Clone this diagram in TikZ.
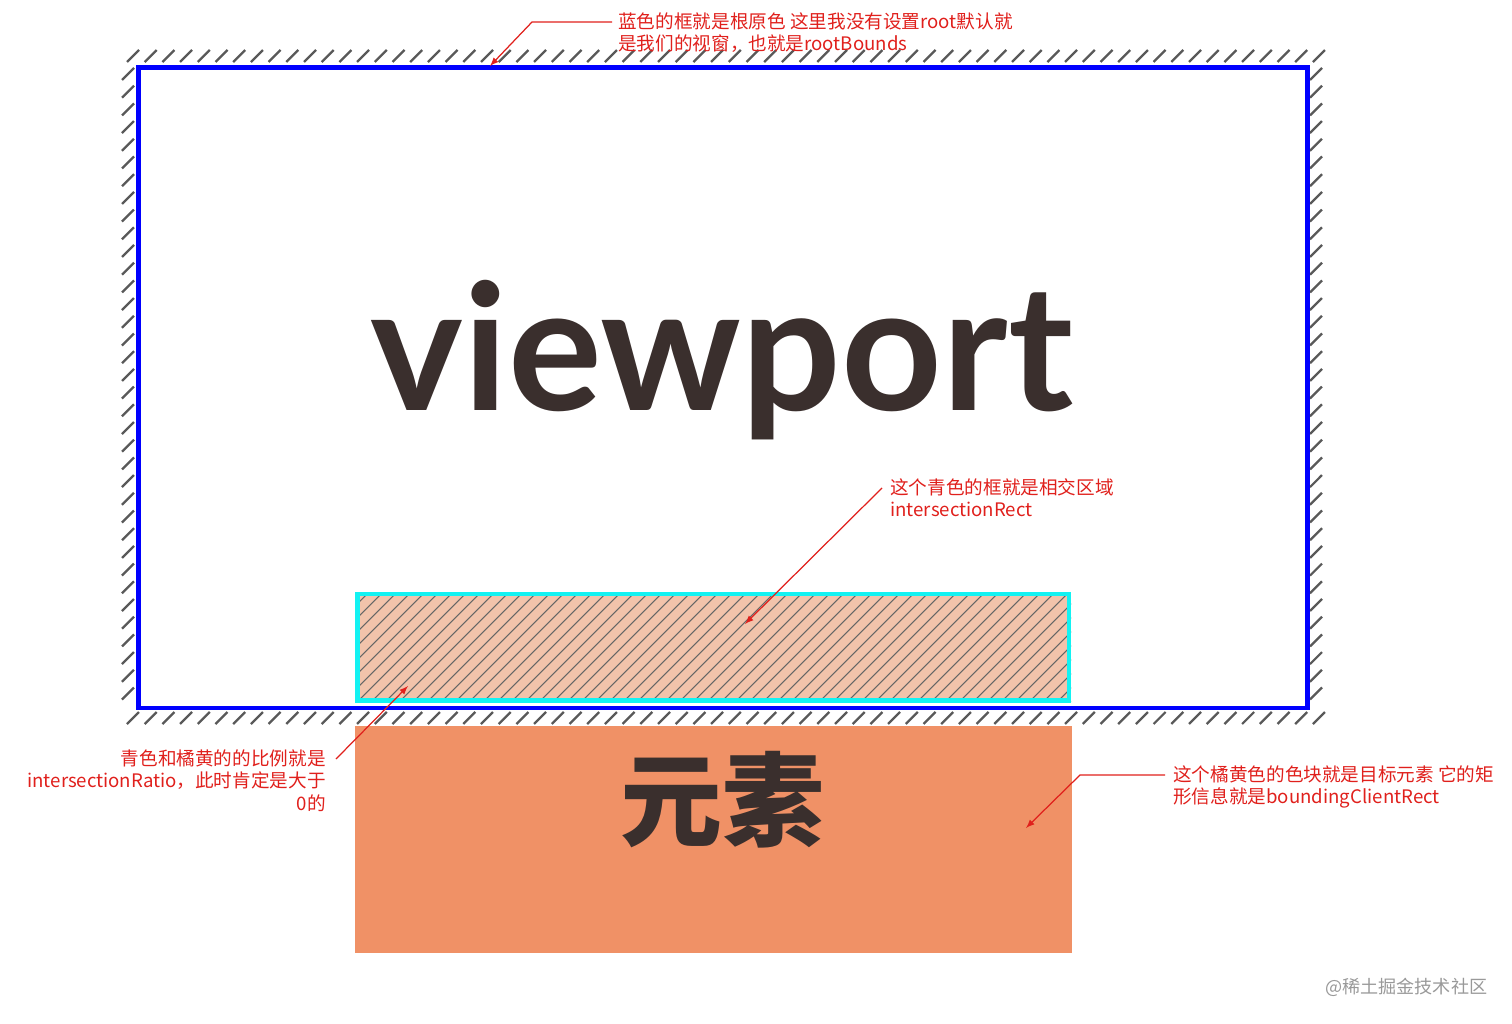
\documentclass[tikz,border=0pt]{standalone}
\usepackage{fontspec}
\setmainfont{Lato}
\newfontfamily\cjk{Noto Sans CJK SC}
\usetikzlibrary{arrows}

\definecolor{rootblue}{HTML}{0000FF}
\definecolor{rectcyan}{HTML}{12F2F2}
\definecolor{peach}{HTML}{F2C3AB}
\definecolor{targetorange}{HTML}{F09166}
\definecolor{notered}{HTML}{E0201C}
\definecolor{inkbrown}{HTML}{3A2F2D}

\begin{document}
\begin{tikzpicture}[x=0.02cm,y=-0.02cm,
    note/.style={font=\cjk\fontsize{10.6}{12.8}\selectfont,text=notered,inner sep=0pt},
    note line/.style={->,>=latex,notered,line width=0.7pt},
    hatch/.style={black!65,line width=1.3pt},
    thin hatch/.style={black!60,line width=0.6pt}]
       \useasboundingbox (0,0) rectangle (1512,1024);
       % Draw hatched band round the viewport
       \foreach \i in {0,...,67} {
         \draw[hatch] ({127+17.7*\i},62) -- ++(12,-12);
         \draw[hatch] ({127+17.7*\i},724) -- ++(12,-12);
       }
       \foreach \i in {0,...,35} {
         \draw[hatch] (122,{80+17.7*\i}) -- ++(12,-12);
         \draw[hatch] (1310,{80+17.7*\i}) -- ++(12,-12);
       }
       \draw[rootblue,line width=2.7pt] (138.3,67.5) rectangle (1307.5,708);
       \node (viewport) [font=\bfseries\fontsize{100}{100}\selectfont,text=inkbrown,anchor=base,inner sep=0pt] at (722,410) {viewport};

       % Draw target element
       \fill[targetorange] (355,726) rectangle (1072,953);
       \node (target) [font=\cjk\bfseries\fontsize{58}{58}\selectfont,text=inkbrown,anchor=base,inner sep=0pt] at (722,838) {元素};

       % Draw intersection rect
       \fill[peach] (355,593) rectangle (1071,702);
       \begin{scope}
         \clip (355,593) rectangle (1071,702);
         \foreach \i in {0,...,61} \draw[thin hatch] ({245+14*\i},702) -- ++(115,-115);
       \end{scope}
       \draw[rectcyan,line width=2.6pt] (357.5,594) rectangle (1069,700.5);

       % Notes
       \node (rootnote) [note,anchor=north west,align=left] at (618,12)
         {蓝色的框就是根原色 这里我没有设置root默认就\\是我们的视窗，也就是rootBounds};
       \coordinate (rootfrom) at (612,22);
       \coordinate (roottip) at (490,66);
       \draw[note line] (rootfrom) -- ++(-80,0) -- (roottip);

       \node (isectnote) [note,anchor=north west,align=left] at (890,478)
         {这个青色的框就是相交区域\\intersectionRect};
       \coordinate (isectfrom) at (882,488);
       \coordinate (isecttip) at (745,624);
       \draw[note line] (isectfrom) -- (isecttip);

       \node (rationote) [note,anchor=north east,align=right] at (326,749)
         {青色和橘黄的的比例就是\\intersectionRatio，此时肯定是大于\\0的};
       \coordinate (ratiofrom) at (336,759);
       \coordinate (ratiotip) at (408,686);
       \draw[note line] (ratiofrom) -- (ratiotip);

       \node (targetnote) [note,anchor=north west,align=left] at (1173,765)
         {这个橘黄色的色块就是目标元素 它的矩\\形信息就是boundingClientRect};
       \coordinate (targetfrom) at (1165,775);
       \coordinate (targettip) at (1026,828);
       \draw[note line] (targetfrom) -- ++(-85,0) -- (targettip);

       \node (mark) [font=\cjk\fontsize{10.3}{12}\selectfont,text=black!40,anchor=west,inner sep=0pt] at (1325,987) {@稀土掘金技术社区};
\end{tikzpicture}
\end{document}
